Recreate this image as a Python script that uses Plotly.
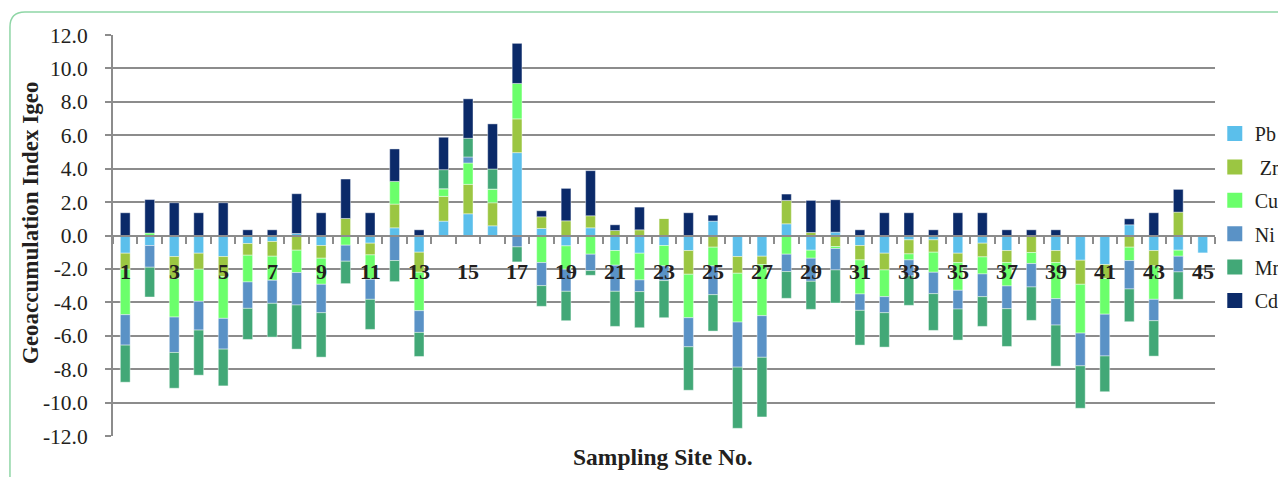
import plotly.graph_objects as go

# ── data ──────────────────────────────────────────────────────────────────────
sites = list(range(1, 46))

pb = [-1.06, -0.60, -1.26, -1.06, -1.26, -0.48, -0.36, 0.12, -0.60, 0.00,
      -0.46, 0.46, -1.00, 0.86, 1.30, 0.58, 4.96, 0.42, -0.62, 0.46,
      -0.90, -1.06, -0.60, -0.90, 0.86, -1.26, -1.24, 0.70, -0.88, 0.20,
      -0.60, -1.06, -0.26, -0.26, -1.06, -0.46, -0.90, 0.00, -0.90, -1.48,
      -1.74, 0.64, -0.90, -0.88, -1.04]
zn = [-0.96, 0.00, -1.32, -0.96, -1.20, -0.70, -0.88, -0.88, -0.76, 1.02,
      -0.70, 1.42, -1.20, 1.48, 1.76, 1.38, 2.02, 0.70, 0.88, 0.72,
      0.30, 0.34, 1.02, -1.42, -0.70, -1.00, -0.50, 1.40, 0.18, -0.66,
      -0.86, -1.00, -0.84, -0.74, -0.56, -0.82, -0.72, -1.02, -0.72, -1.44,
      -0.83, -0.70, -0.92, 1.40, 0.00]
cu = [-2.72, 0.15, -2.30, -1.92, -2.50, -1.60, -1.44, -1.34, -1.56, -0.58,
      -1.46, 1.36, -2.30, 0.46, 1.28, 0.82, 2.12, -1.62, -1.40, -1.12,
      -0.88, -1.60, -1.22, -2.60, -1.12, -2.92, -3.06, -1.12, -0.48, -0.12,
      -2.04, -1.60, -0.36, -1.20, -1.66, -1.02, -1.40, -0.66, -2.16, -2.92,
      -2.14, -0.80, -2.00, -0.36, 0.00]
ni = [-1.82, -1.30, -2.12, -1.72, -1.84, -1.58, -1.38, -1.94, -1.70, -0.96,
      -1.20, -1.50, -1.30, 0.00, 0.36, 0.00, -0.68, -1.38, -1.32, -0.98,
      -1.56, -0.70, -0.88, -1.74, -1.72, -2.70, -2.49, -1.04, -1.38, -1.28,
      -0.98, -0.96, -0.96, -1.28, -1.12, -1.36, -1.36, -1.40, -1.58, -1.96,
      -2.50, -1.70, -1.28, -0.94, 0.00]
mn = [-2.22, -1.78, -2.14, -2.70, -2.20, -1.86, -2.02, -2.64, -2.66, -1.34,
      -1.80, -1.26, -1.44, 1.14, 1.12, 1.20, -0.90, -1.24, -1.76, -0.28,
      -2.10, -2.16, -2.22, -2.60, -2.18, -3.66, -3.57, -1.60, -1.68, -1.98,
      -2.08, -2.06, -1.76, -2.20, -1.86, -1.78, -2.26, -2.00, -2.46, -2.54,
      -2.14, -1.96, -2.12, -1.64, 0.00]
cd = [1.36, 2.00, 1.96, 1.36, 1.96, 0.34, 0.34, 2.38, 1.36, 2.36,
      1.36, 1.94, 0.34, 1.94, 2.36, 2.70, 2.40, 0.36, 1.94, 2.70,
      0.34, 1.36, 0.00, 1.36, 0.36, 0.00, 0.00, 0.38, 1.92, 1.94,
      0.34, 1.36, 1.36, 0.34, 1.36, 1.36, 0.34, 0.34, 0.34, 0.00,
      0.00, 0.36, 1.36, 1.36, 0.00]

metal_names = ["Pb", "\u00a0Zn", "Cu", "Ni", "Mn", "Cd"]
metal_colors = ["#5BBFEB", "#9BC642", "#6BFF6B", "#5A92C6", "#42A877", "#0B2A69"]

x_tick_vals = [1, 3, 5, 7, 9, 11, 13, 15, 17, 19, 21, 23, 25, 27, 29, 31, 33,
               35, 37, 39, 41, 43, 45]
y_tick_vals = [-12, -10, -8, -6, -4, -2, 0, 2, 4, 6, 8, 10, 12]
y_tick_text = ["-12.0", "-10.0", "-8.0", "-6.0", "-4.0", "-2.0", "0.0",
               "2.0", "4.0", "6.0", "8.0", "10.0", "12.0"]

SERIF = "Liberation Serif, Times New Roman, serif"
INK = "#231f20"
GRID = "#8c8c8c"

# ── figure ────────────────────────────────────────────────────────────────────
fig = go.Figure()

for name, vals, col in zip(metal_names, [pb, zn, cu, ni, mn, cd], metal_colors):
    fig.add_trace(go.Bar(x=sites, y=vals, name=name, marker_color=col,
                         marker_line=dict(width=0.6, color="rgba(255,255,255,0.7)"),
                         showlegend=False))
    # legend swatch (bigger squares than the default bar legend symbol)
    fig.add_trace(go.Scatter(x=[None], y=[None], mode="markers", name=name,
                             legendgroup=name.strip(),
                             marker=dict(symbol="square", size=15, color=col)))

# page body has an 8px margin, so the figure is a bit smaller than the window
fig.update_layout(
    width=1278, height=469,
    barmode="relative", bargap=0.6,
    plot_bgcolor="white", paper_bgcolor="white",
    margin=dict(l=105, r=71, t=27, b=41, autoexpand=False),
    font=dict(family=SERIF, color=INK),
    legend=dict(x=0.9998, xanchor="left", y=0.803, yanchor="top",
                font=dict(family=SERIF, size=20, color=INK),
                tracegroupgap=4.4, bgcolor="rgba(0,0,0,0)"),
)

fig.update_yaxes(
    range=[-12, 12], tickvals=y_tick_vals, ticktext=y_tick_text,
    showgrid=True, gridcolor=GRID, gridwidth=2, zeroline=False,
    showline=True, linecolor=GRID, linewidth=2,
    ticks="outside", ticklen=6, tickwidth=2, tickcolor=GRID,
    ticklabelstandoff=13,
    tickfont=dict(family=SERIF, size=21.5, color=INK),
)
# category axis sits on the zero line (Excel style)
fig.update_xaxes(
    range=[0.5, 45.5], anchor="free", position=0.5,
    showticklabels=False, ticks="",
    showgrid=False, zeroline=False,
    showline=True, linecolor=GRID, linewidth=2,
    minor=dict(tick0=0.5, dtick=1, ticks="outside", ticklen=7,
               tickwidth=2, tickcolor=GRID, showgrid=False),
)

# site numbers, drawn just under the zero line over the bars
for v in x_tick_vals:
    fig.add_annotation(text=str(v), x=v, y=-2.15, xref="x", yref="y",
                       showarrow=False, yanchor="middle",
                       font=dict(family=SERIF, size=22, color=INK, weight="bold"))

# axis titles
fig.add_annotation(text="<b>Geoaccumulation Index Igeo</b>", textangle=-90,
                   xref="paper", yref="paper", x=-0.088, y=0.53,
                   showarrow=False, font=dict(family=SERIF, size=23, color=INK))
fig.add_annotation(text="<b>Sampling Site No.</b>",
                   xref="paper", yref="paper", x=0.499, y=-0.09,
                   showarrow=False, font=dict(family=SERIF, size=23.5, color=INK))

# rounded green frame round the figure
fig.add_shape(type="path", xref="paper", yref="paper",
              path="M -0.0935,-0.2 L -0.0935,1.020 Q -0.0935,1.0574 -0.0799,1.0574 L 1.08,1.0574",
              line=dict(color="#8FD6A6", width=1.5))

fig.write_html("out.html")
